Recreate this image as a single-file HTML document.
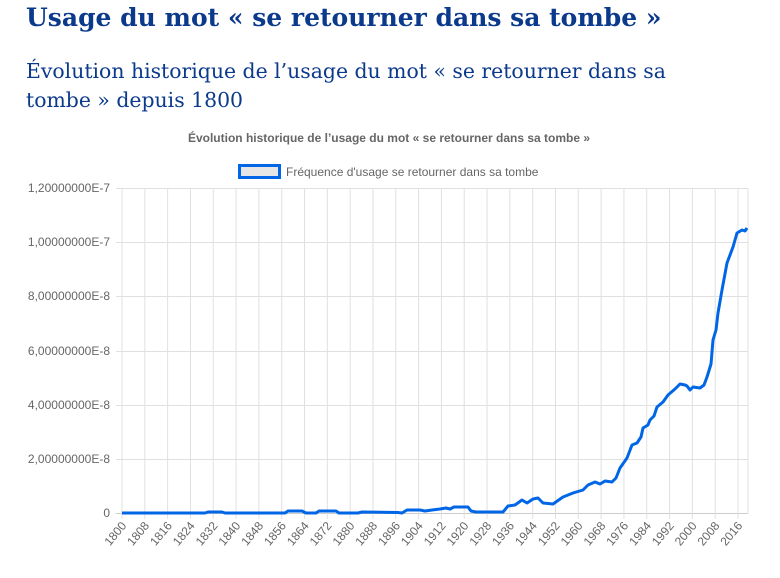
<!DOCTYPE html>
<html><head><meta charset="utf-8"><style>
body{margin:0;width:780px;height:578px;background:#fff;overflow:hidden;font-family:"Liberation Sans",sans-serif}
h1{position:absolute;left:26px;top:3px;margin:0;font:bold 25px "DejaVu Serif",serif;color:#0b3a8c;white-space:nowrap}
h2{position:absolute;left:26px;top:57px;margin:0;font:normal 20.4px/29px "DejaVu Serif",serif;color:#0b3a8c;width:670px}
svg{position:absolute;left:0;top:0}
</style></head><body>
<h1>Usage du mot « se retourner dans sa tombe »</h1>
<h2>Évolution historique de l’usage du mot « se retourner dans sa tombe » depuis 1800</h2>
<svg width="780" height="578" font-family="Liberation Sans, sans-serif">
<text x="389" y="142" text-anchor="middle" font-size="12" font-weight="bold" fill="#666">Évolution historique de l’usage du mot « se retourner dans sa tombe »</text>
<rect x="239.5" y="165.5" width="40" height="12" fill="#e6e6e6" stroke="#0066e6" stroke-width="3"/>
<text x="286" y="176" font-size="12" fill="#666">Fréquence d'usage se retourner dans sa tombe</text>
<g stroke="#e0e0e0" stroke-width="1">
<line x1="116" y1="188.5" x2="748" y2="188.5"/><line x1="116" y1="242.5" x2="748" y2="242.5"/><line x1="116" y1="296.5" x2="748" y2="296.5"/><line x1="116" y1="351.5" x2="748" y2="351.5"/><line x1="116" y1="405.5" x2="748" y2="405.5"/><line x1="116" y1="459.5" x2="748" y2="459.5"/><line x1="116" y1="513.5" x2="748" y2="513.5" stroke="#ccc"/>
<g id="v"></g>
</g>
<g font-size="12" fill="#666" text-anchor="end">
<text x="110" y="192">1,20000000E-7</text><text x="110" y="246">1,00000000E-7</text><text x="110" y="300">8,00000000E-8</text><text x="110" y="355">6,00000000E-8</text><text x="110" y="409">4,00000000E-8</text><text x="110" y="463">2,00000000E-8</text><text x="110" y="517">0</text>
</g>
<g id="xl" font-size="12" fill="#666" text-anchor="end"></g>
<polyline fill="none" stroke="#0066e6" stroke-width="3" stroke-linejoin="round" points="122,513 205,513 208,512 222,512 225,513 285,513 288,511 302,511 306,513 316,513 319,511 336,511 339,513 358,513 362,512 398,512.5 402,513 407,510 420,510 425,511 432,510 440,509 446,508 450,509 454,507 468,507 471,511 476,512 503,512 508,506 515,505 522,500 527,503 533,499 538,498 543,503 553,504 563,497 573,493 583,490 588,485 595,482 600,484 605,481 612,482 616,478 620,468 627,458 632,445 637,443 641,437 643,428 648,425 650,420 654,416 657,407 663,402 668,395 675,389 680,384 685,385 687,386 690,390 693,387 700,388 704,385 707,377 711,364 713,340 716,330 718,313 722,290 727,263 733,247 737,233 742,230 745,231 747,228"/>
</svg>
<script>
var v=document.getElementById('v'),xl=document.getElementById('xl'),ns='http://www.w3.org/2000/svg';
for(var y=1800;y<=2016;y+=8){var x=122+(y-1800)*616/216;
var l=document.createElementNS(ns,'line');l.setAttribute('x1',x);l.setAttribute('x2',x);l.setAttribute('y1',188);l.setAttribute('y2',519);v.appendChild(l);
var t=document.createElementNS(ns,'text');t.setAttribute('transform','translate('+(x+5)+',526) rotate(-50)');t.textContent=y;xl.appendChild(t);}
var l=document.createElementNS(ns,'line');l.setAttribute('x1',748);l.setAttribute('x2',748);l.setAttribute('y1',188);l.setAttribute('y2',513);v.appendChild(l);
</script>
</body></html>
